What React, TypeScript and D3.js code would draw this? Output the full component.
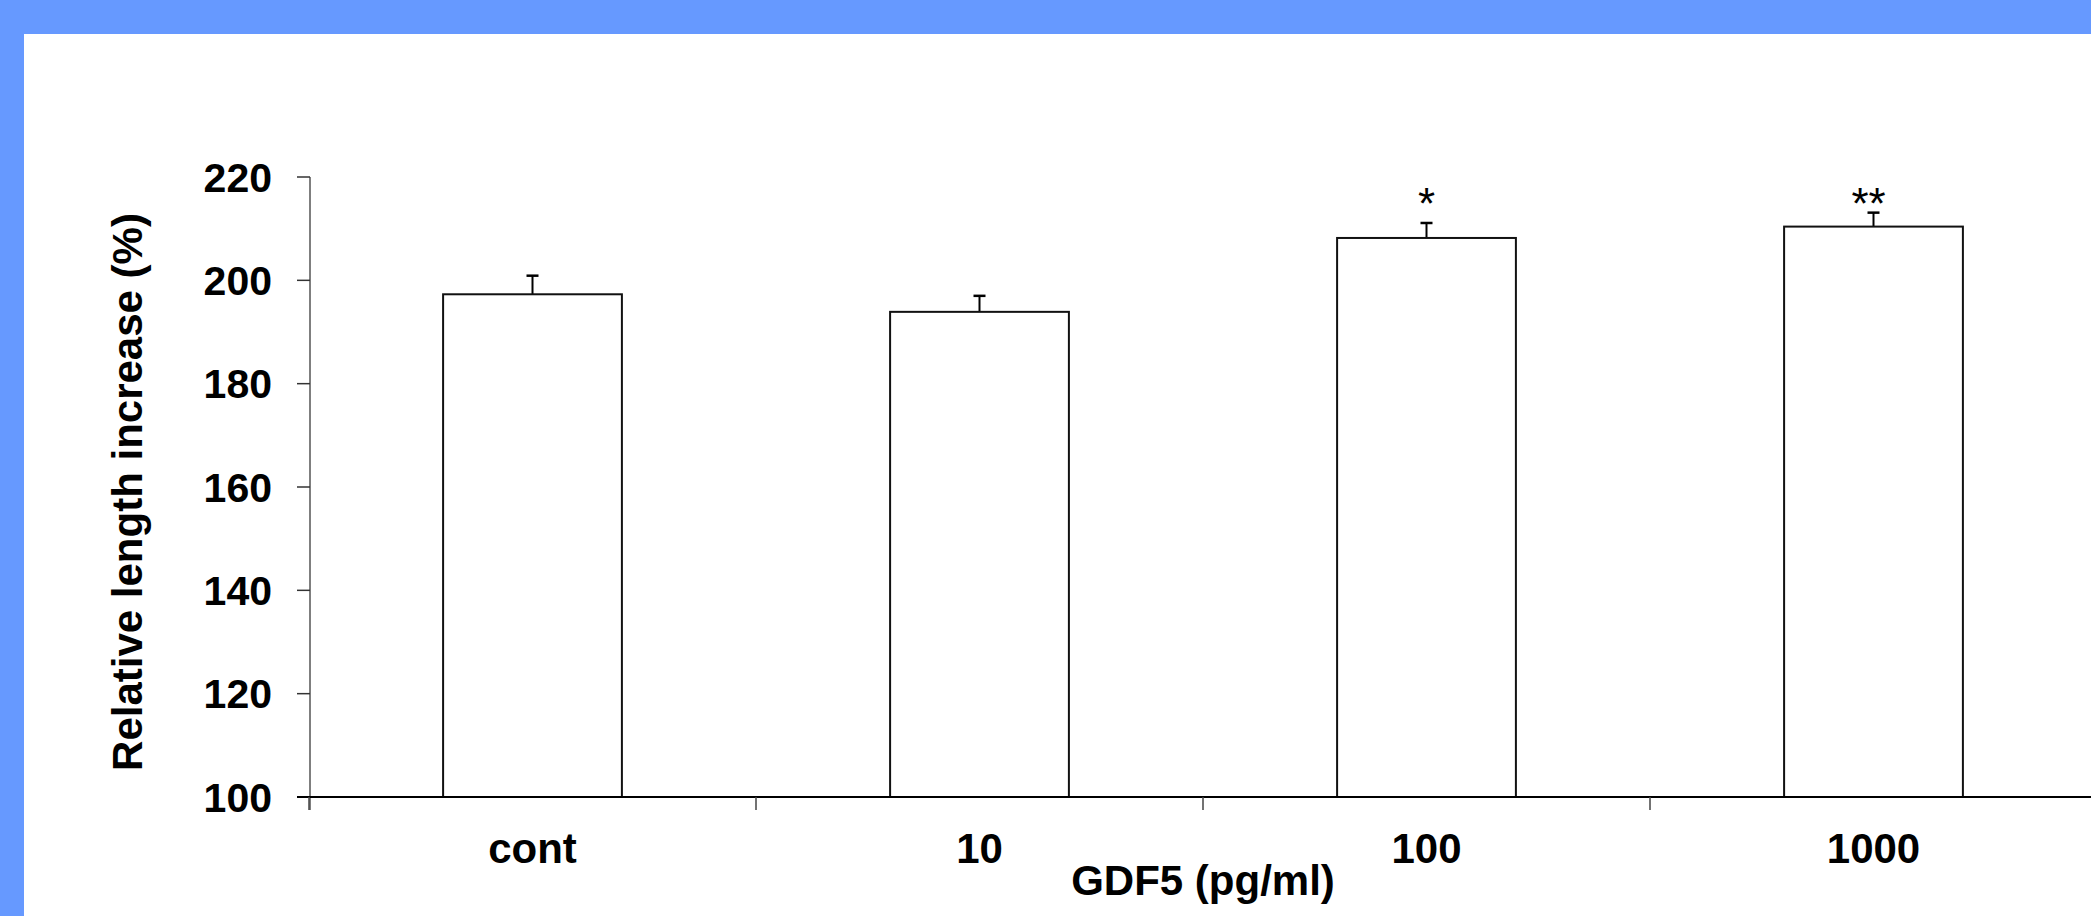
import React from 'react';
import * as d3 from 'd3';

const categories = ['cont', '10', '100', '1000'];
const means = [197.3, 193.9, 208.2, 210.4];
const errors = [3.6, 3.1, 2.9, 2.7];
const stars = ['', '', '*', '**'];
const yTicks = [100, 120, 140, 160, 180, 200, 220];

const W = 2091, H = 916;
const font = '"Liberation Sans", Arial, sans-serif';

const App = () => {
  const x = d3.scaleBand().domain(categories).range([309, 309 + 4 * 447]).padding(0);
  const y = d3.scaleLinear().domain([100, 220]).range([797, 177]);
  const bw = x.bandwidth() * 0.4;
  const edges = categories.map((c) => x(c));

  return (
    <svg width={W} height={H} style={{ position: 'absolute', left: 0, top: 0, background: '#fff' }}>
      {/* frame */}
      <rect x={0} y={0} width={W} height={34} fill="#6699ff" />
      <rect x={0} y={0} width={24} height={H} fill="#6699ff" />

      {/* y axis */}
      <line x1={310} x2={310} y1={y(220)} y2={810} stroke="#555" strokeWidth={1.5} />
      {yTicks.map((t) => (
        <g key={t}>
          <line x1={297} x2={310} y1={y(t)} y2={y(t)} stroke="#333" strokeWidth={1.5} />
          <text x={272} y={y(t)} dy="0.36em" textAnchor="end" fontFamily={font} fontWeight="bold" fontSize={41}>
            {t}
          </text>
        </g>
      ))}
      <text transform={`translate(142, ${(y(100) + y(220)) / 2 + 5}) rotate(-90)`} textAnchor="middle"
        fontFamily={font} fontWeight="bold" fontSize={42}>
        Relative length increase (%)
      </text>

      {/* bars */}
      {categories.map((c, i) => {
        const cx = x(c) + x.bandwidth() / 2;
        return (
          <g key={c}>
            <line x1={cx} x2={cx} y1={y(means[i])} y2={y(means[i] + errors[i])} stroke="#000" strokeWidth={2} />
            <line x1={cx - 6} x2={cx + 6} y1={y(means[i] + errors[i])} y2={y(means[i] + errors[i])} stroke="#000" strokeWidth={2.5} />
            <rect x={cx - bw / 2} y={y(means[i])} width={bw} height={y(100) - y(means[i])}
              fill="#fff" stroke="#111" strokeWidth={2} />
            {stars[i] && (
              <text x={cx - (stars[i].length > 1 ? 5 : 0)} y={219} textAnchor="middle" fontFamily={font} fontSize={44}>
                {stars[i]}
              </text>
            )}
            <text x={cx} y={863} textAnchor="middle" fontFamily={font} fontWeight="bold" fontSize={42}>
              {c}
            </text>
          </g>
        );
      })}

      {/* x axis */}
      <line x1={297} x2={W} y1={797} y2={797} stroke="#000" strokeWidth={1.8} />
      {edges.map((e, i) => (
        <line key={i} x1={e} x2={e} y1={797} y2={810} stroke="#444" strokeWidth={1.5} />
      ))}
      <text x={1203} y={895} textAnchor="middle" fontFamily={font} fontWeight="bold" fontSize={42}>
        GDF5 (pg/ml)
      </text>
    </svg>
  );
};

export default App;
